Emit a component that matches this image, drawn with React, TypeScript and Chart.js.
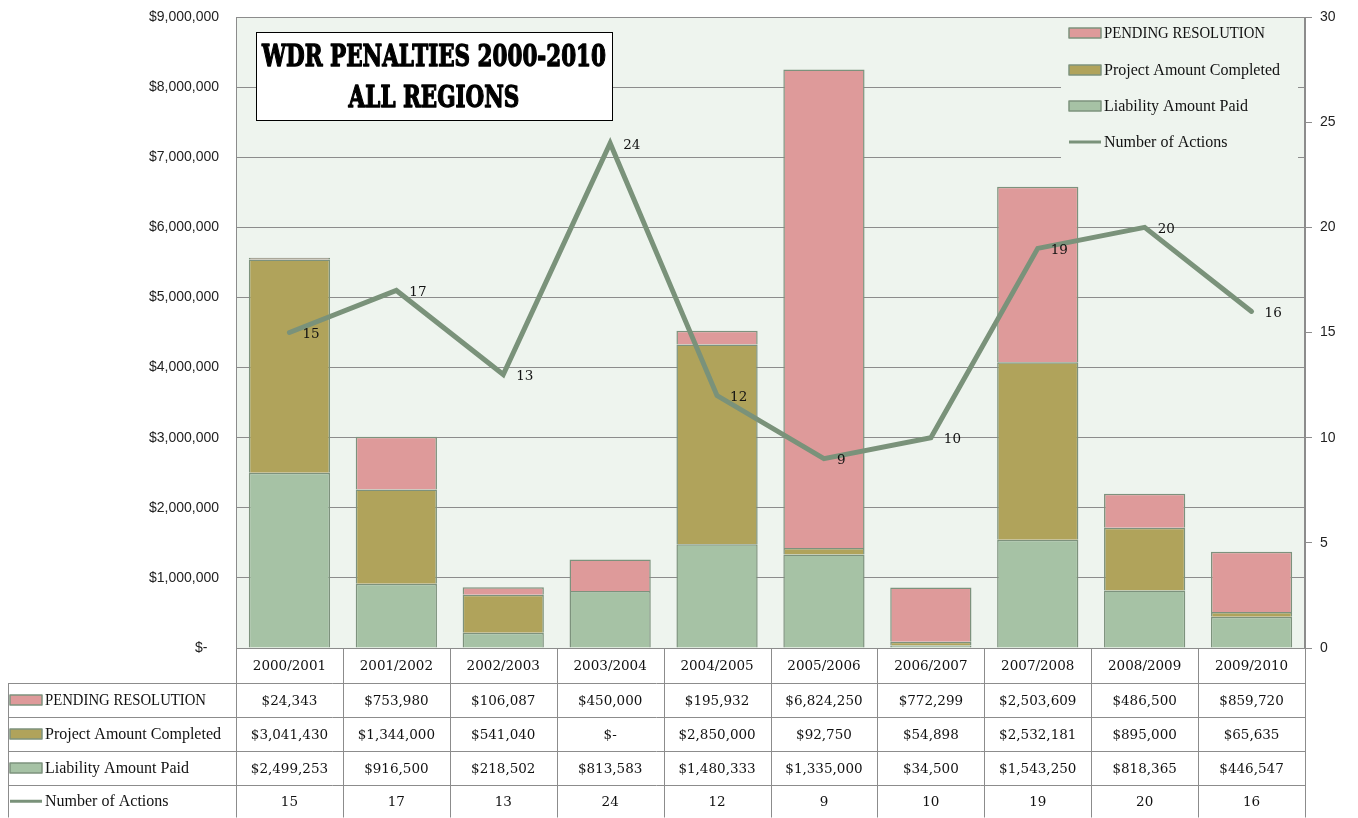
import React, { useEffect, useRef } from 'react';
import { Chart, registerables } from 'chart.js';

Chart.register(...registerables);

const categories = ['2000/2001', '2001/2002', '2002/2003', '2003/2004', '2004/2005', '2005/2006', '2006/2007', '2007/2008', '2008/2009', '2009/2010'];
const pendingResolution = [24343, 753980, 106087, 450000, 195932, 6824250, 772299, 2503609, 486500, 859720];
const projectCompleted = [3041430, 1344000, 541040, 0, 2850000, 92750, 54898, 2532181, 895000, 65635];
const liabilityPaid = [2499253, 916500, 218502, 813583, 1480333, 1335000, 34500, 1543250, 818365, 446547];
const numberOfActions = [15, 17, 13, 24, 12, 9, 10, 19, 20, 16];
const seriesNames = ['PENDING RESOLUTION', 'Project Amount Completed', 'Liability Amount Paid', 'Number of Actions'];
const titleLines = ['WDR PENALTIES 2000-2010', 'ALL REGIONS'];

const C_PENDING = '#DE9A9A';
const C_PROJECT = '#B0A35B';
const C_LIAB = '#A6C2A5';
const C_LINE = '#7A927A';
const C_BORDER = '#7D927D';
const C_GRID = '#8C8C8C';
const C_BG = '#EEF4EE';
const SERIF = '"Liberation Serif", serif';
const SLAB = '"DejaVu Serif", serif';

const money = (v: number) => (v === 0 ? '$-' : '$' + v.toLocaleString('en-US'));

function drawKey(ctx: CanvasRenderingContext2D, kind: number, x: number, y: number) {
  if (kind === 3) {
    ctx.strokeStyle = C_LINE;
    ctx.lineWidth = 3;
    ctx.beginPath();
    ctx.moveTo(x, y);
    ctx.lineTo(x + 32, y);
    ctx.stroke();
    return;
  }
  const fill = [C_PENDING, C_PROJECT, C_LIAB][kind];
  ctx.fillStyle = fill;
  ctx.fillRect(x, y - 5, 32, 10);
  ctx.strokeStyle = C_BORDER;
  ctx.lineWidth = 1.5;
  ctx.strokeRect(x, y - 5, 32, 10);
}

function fitText(ctx: CanvasRenderingContext2D, t: string, x: number, y: number, maxW: number) {
  const w = ctx.measureText(t).width;
  if (w <= maxW) {
    ctx.fillText(t, x, y);
    return;
  }
  ctx.save();
  ctx.translate(x, y);
  ctx.scale(maxW / w, 1);
  ctx.fillText(t, 0, 0);
  ctx.restore();
}

const extrasPlugin = {
  id: 'extras',
  beforeDraw(chart: any) {
    const { ctx, chartArea: a } = chart;
    ctx.save();
    ctx.fillStyle = '#ffffff';
    ctx.fillRect(0, 0, chart.width, chart.height);
    ctx.fillStyle = C_BG;
    ctx.fillRect(a.left, a.top, a.right - a.left, a.bottom - a.top);
    ctx.restore();
  },
  afterDraw(chart: any) {
    const { ctx, chartArea: a } = chart;
    const xs = chart.scales.x;
    const y2 = chart.scales.y2;
    ctx.save();

    // plot frame
    ctx.strokeStyle = C_GRID;
    ctx.lineWidth = 1;
    ctx.strokeRect(a.left + 0.5, a.top + 0.5, a.right - a.left - 1, a.bottom - a.top);

    // data labels for line
    ctx.fillStyle = '#111';
    ctx.font = `13.5px ${SLAB}`;
    ctx.textAlign = 'left';
    ctx.textBaseline = 'middle';
    numberOfActions.forEach((v, i) => {
      const px = xs.getPixelForValue(i);
      const py = y2.getPixelForValue(v);
      ctx.fillText(String(v), px + 13, py + 2);
    });

    // title box
    const tx = 256, ty = 32, tw = 356, th = 88;
    ctx.fillStyle = '#fff';
    ctx.fillRect(tx, ty, tw, th);
    ctx.strokeStyle = '#000';
    ctx.lineWidth = 1;
    ctx.strokeRect(tx + 0.5, ty + 0.5, tw, th);
    ctx.fillStyle = '#000';
    ctx.strokeStyle = '#000';
    ctx.font = `bold 30px ${SLAB}`;
    const w0 = ctx.measureText(titleLines[0]).width;
    const sx = 344 / w0;
    ctx.textAlign = 'center';
    ctx.textBaseline = 'alphabetic';
    ctx.lineJoin = 'round';
    titleLines.forEach((t, i) => {
      ctx.save();
      ctx.translate(tx + tw / 2, i === 0 ? 66 : 107);
      ctx.scale(sx, 1);
      ctx.lineWidth = 1.4;
      ctx.strokeText(t, 0, 0);
      ctx.fillText(t, 0, 0);
      ctx.restore();
    });

    // legend box
    ctx.fillStyle = C_BG;
    ctx.fillRect(1061, a.top + 1, 237, 140);
    ctx.font = `16px ${SERIF}`;
    ctx.textAlign = 'left';
    ctx.textBaseline = 'middle';
    const ly = [33, 70, 106, 142];
    const lw = [161, 186, 145, 126];
    seriesNames.forEach((n, i) => {
      drawKey(ctx, i, 1069, ly[i]);
      ctx.fillStyle = '#111';
      fitText(ctx, n, 1104, ly[i] + 1, lw[i]);
    });

    // data table
    const w = (a.right - a.left) / categories.length;
    const rows = [a.bottom, 683, 717, 751, 785, 817.5];
    ctx.strokeStyle = C_GRID;
    ctx.lineWidth = 1;
    ctx.beginPath();
    for (let r = 1; r < rows.length; r++) {
      const yy = Math.round(rows[r]) + 0.5;
      ctx.moveTo(8, yy);
      ctx.lineTo(a.right, yy);
    }
    for (let i = 0; i <= categories.length; i++) {
      const xx = Math.round(a.left + i * w) + 0.5;
      ctx.moveTo(xx, a.bottom);
      ctx.lineTo(xx, 817.5);
    }
    ctx.moveTo(8.5, rows[1]);
    ctx.lineTo(8.5, 817.5);
    ctx.stroke();

    ctx.fillStyle = '#111';
    ctx.font = `13.5px ${SLAB}`;
    ctx.textBaseline = 'middle';
    ctx.textAlign = 'center';
    categories.forEach((c, i) => {
      ctx.fillText(c, xs.getPixelForValue(i), (rows[0] + rows[1]) / 2 + 1);
    });
    const tableData = [pendingResolution, projectCompleted, liabilityPaid, numberOfActions];
    tableData.forEach((arr, r) => {
      const cy = (rows[r + 1] + rows[r + 2]) / 2 + 1;
      drawKey(ctx, r, 10, cy - 1);
      ctx.fillStyle = '#111';
      ctx.textAlign = 'left';
      ctx.font = `16px ${SERIF}`;
      fitText(ctx, seriesNames[r], 45, cy, lw[r]);
      ctx.textAlign = 'center';
      ctx.font = `13.5px ${SLAB}`;
      arr.forEach((v, i) => {
        ctx.fillText(r === 3 ? String(v) : money(v), xs.getPixelForValue(i), cy);
      });
    });
    ctx.restore();
  },
};

export default function App() {
  const ref = useRef<HTMLCanvasElement>(null);
  useEffect(() => {
    document.body.style.margin = '0';
    const chart = new Chart(ref.current as HTMLCanvasElement, {
      type: 'bar',
      data: {
        labels: categories,
        datasets: [
          {
            type: 'line',
            label: seriesNames[3],
            data: numberOfActions,
            yAxisID: 'y2',
            borderColor: C_LINE,
            borderWidth: 5,
            pointRadius: 0,
            tension: 0,
            borderCapStyle: 'round',
            borderJoinStyle: 'miter',
            order: 0,
          } as any,
          {
            label: seriesNames[2],
            data: liabilityPaid,
            backgroundColor: C_LIAB,
            borderColor: C_BORDER,
            borderWidth: 1.5,
            yAxisID: 'y',
            stack: 's',
            order: 1,
          },
          {
            label: seriesNames[1],
            data: projectCompleted,
            backgroundColor: C_PROJECT,
            borderColor: C_BORDER,
            borderWidth: 1.5,
            yAxisID: 'y',
            stack: 's',
            order: 1,
          },
          {
            label: seriesNames[0],
            data: pendingResolution,
            backgroundColor: C_PENDING,
            borderColor: C_BORDER,
            borderWidth: 1.5,
            yAxisID: 'y',
            stack: 's',
            order: 1,
          },
        ],
      },
      options: {
        animation: false,
        responsive: true,
        maintainAspectRatio: false,
        layout: { padding: { top: 17, bottom: 170, left: 0, right: 0 } },
        datasets: { bar: { categoryPercentage: 1, barPercentage: 0.76 } },
        plugins: { legend: { display: false }, tooltip: { enabled: false } },
        scales: {
          x: { display: false, stacked: true },
          y: {
            stacked: true,
            min: 0,
            max: 9000000,
            ticks: {
              stepSize: 1000000,
              color: '#222',
              padding: 2,
              font: { family: '"Liberation Sans", Arial, sans-serif', size: 14 },
              callback: (v: any) => (Number(v) === 0 ? '$-   ' : money(Number(v))),
            },
            grid: { color: C_GRID, lineWidth: 1, drawTicks: true, tickLength: 15, tickColor: 'rgba(0,0,0,0)' },
            border: { display: true, color: C_GRID },
            afterFit: (s: any) => {
              s.width = 236;
            },
          },
          y2: {
            position: 'right',
            min: 0,
            max: 30,
            ticks: {
              stepSize: 5,
              color: '#222',
              padding: 8,
              font: { family: '"Liberation Sans", Arial, sans-serif', size: 14 },
            },
            grid: { drawOnChartArea: false, drawTicks: true, tickLength: 7, color: C_GRID },
            border: { display: true, color: C_GRID },
            afterFit: (s: any) => {
              s.width = 53;
            },
          },
        },
      } as any,
      plugins: [extrasPlugin],
    });
    return () => chart.destroy();
  }, []);
  return (
    <div style={{ width: 1358, height: 818, position: 'relative' }}>
      <canvas ref={ref} />
    </div>
  );
}
